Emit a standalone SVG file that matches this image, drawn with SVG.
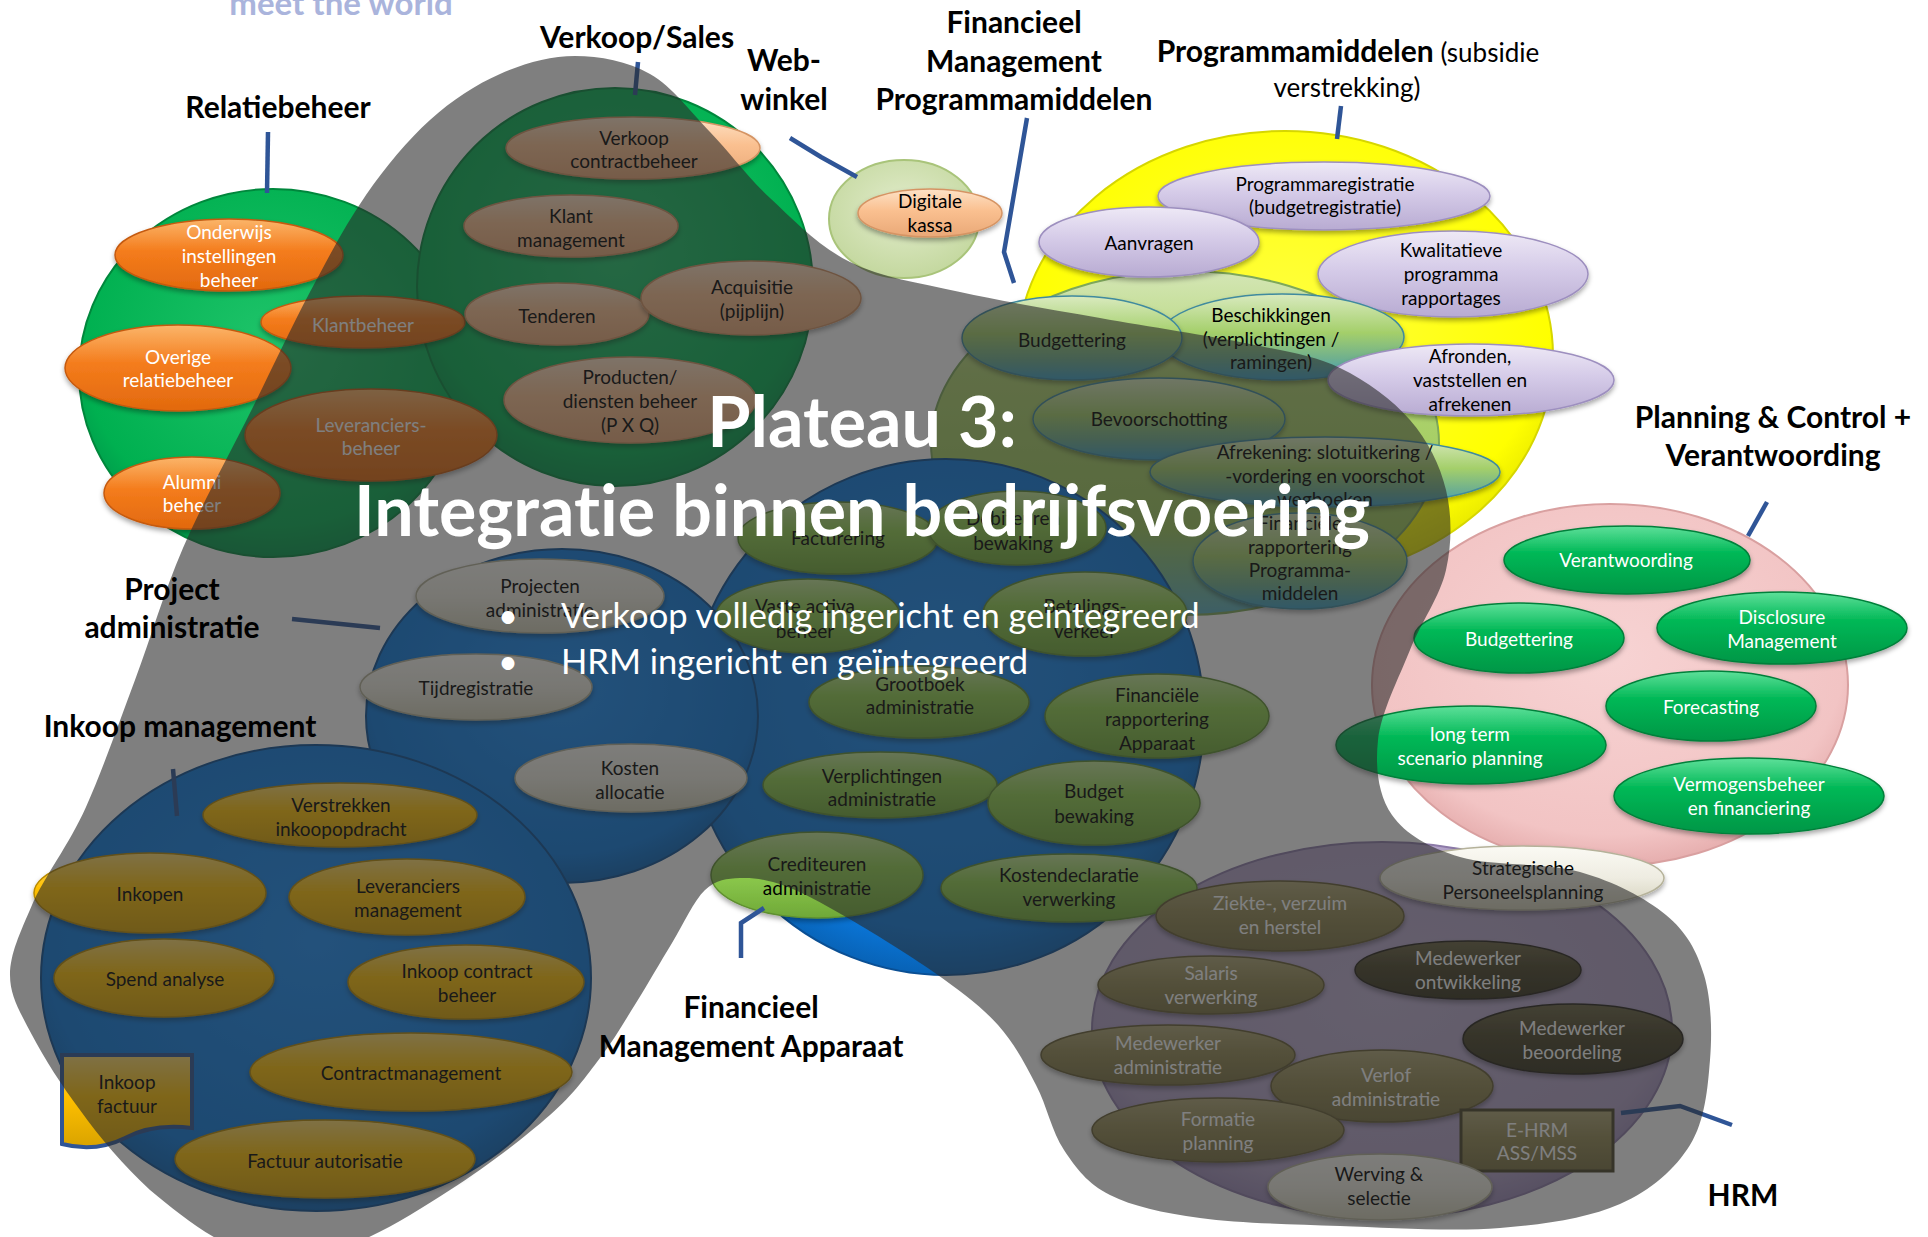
<svg xmlns="http://www.w3.org/2000/svg" width="1928" height="1237" viewBox="0 0 1928 1237">
<defs>
<style>
.t{font-family:Lato,"Liberation Sans",sans-serif;font-size:19px;text-anchor:middle}
.k{fill:#000}
.w{fill:#fff}
.h{font-family:Lato,"Liberation Sans",sans-serif;font-size:30px;font-weight:bold;text-anchor:middle;fill:#000}
.hr{font-family:Lato,"Liberation Sans",sans-serif;font-size:26px;font-weight:normal;text-anchor:middle;fill:#000}
.ti{font-family:Lato,"Liberation Sans",sans-serif;font-size:70px;font-weight:bold;text-anchor:middle;fill:#fff;font-variant-ligatures:none}
.bu{font-family:Lato,"Liberation Sans",sans-serif;font-size:34.5px;fill:#fff}
.cn{fill:none;stroke:#2f5597;stroke-width:4.5}
.e{filter:url(#sh)}
.cg{fill:url(#rGreen);stroke:#00873c;stroke-width:2}
.cb{fill:url(#rBlue);stroke:#0a4f94;stroke-width:2}
.cy{fill:url(#rYellow);stroke:#d6d600;stroke-width:2}
.cw{fill:url(#rWeb);stroke:#a9c47a;stroke-width:2}
.cf{fill:url(#gFmp);stroke:#7ea85a;stroke-width:2}
.cp{fill:url(#rPink);stroke:#d9a0a0;stroke-width:2}
.cu{fill:url(#rPurple);stroke:#8c7aa8;stroke-width:2}
.or{fill:url(#gOr);stroke:#c55a11;stroke-width:1.5}
.pe{fill:url(#gPe);stroke:#d59464;stroke-width:1.5}
.la{fill:url(#gLa);stroke:#9d8fbf;stroke-width:1.5}
.fm{fill:url(#gFm);stroke:#3f8a9e;stroke-width:1.5}
.lg{fill:url(#gLg);stroke:#5f8f30;stroke-width:1.5}
.cr{fill:url(#gCr);stroke:#b5b29a;stroke-width:1.5}
.go{fill:url(#gGo);stroke:#b88a00;stroke-width:1.5}
.gr{fill:url(#gGr);stroke:#00803a;stroke-width:1.5}
.ol{fill:url(#gOl);stroke:#665d34;stroke-width:1.5}
.dk{fill:url(#gDk);stroke:#27241a;stroke-width:1.5}
</style>
<filter id="sh" x="-10%" y="-20%" width="120%" height="160%"><feDropShadow dx="0" dy="3" stdDeviation="2.5" flood-color="#000" flood-opacity="0.35"/></filter>
<radialGradient id="rGreen" cx="0.5" cy="0.42" r="0.58"><stop offset="0" stop-color="#1fc46a"/><stop offset="0.85" stop-color="#00b050"/><stop offset="1" stop-color="#00994a"/></radialGradient>
<radialGradient id="rBlue" cx="0.5" cy="0.42" r="0.58"><stop offset="0" stop-color="#1a8df5"/><stop offset="0.85" stop-color="#0a78dc"/><stop offset="1" stop-color="#0862b5"/></radialGradient>
<radialGradient id="rYellow" cx="0.5" cy="0.42" r="0.58"><stop offset="0" stop-color="#ffff40"/><stop offset="0.85" stop-color="#ffff00"/><stop offset="1" stop-color="#e6e600"/></radialGradient>
<radialGradient id="rWeb" cx="0.5" cy="0.42" r="0.58"><stop offset="0" stop-color="#e2eccc"/><stop offset="1" stop-color="#c4d89f"/></radialGradient>
<radialGradient id="rPink" cx="0.5" cy="0.42" r="0.58"><stop offset="0" stop-color="#f7d3d3"/><stop offset="0.85" stop-color="#f2c4c4"/><stop offset="1" stop-color="#e6aeae"/></radialGradient>
<radialGradient id="rPurple" cx="0.5" cy="0.42" r="0.58"><stop offset="0" stop-color="#bdafd1"/><stop offset="0.85" stop-color="#b1a1c7"/><stop offset="1" stop-color="#9a88b6"/></radialGradient>
<linearGradient id="gFmp" x1="0" y1="0" x2="0" y2="1"><stop offset="0" stop-color="#d4e6b5"/><stop offset="0.3" stop-color="#b0d470"/><stop offset="0.75" stop-color="#9cc85a"/><stop offset="1" stop-color="#5aaec0"/></linearGradient>
<linearGradient id="gOr" x1="0" y1="0" x2="0" y2="1"><stop offset="0" stop-color="#fbb56a"/><stop offset="0.45" stop-color="#f47c1c"/><stop offset="1" stop-color="#e2690e"/></linearGradient>
<linearGradient id="gPe" x1="0" y1="0" x2="0" y2="1"><stop offset="0" stop-color="#fde2c6"/><stop offset="0.45" stop-color="#fac090"/><stop offset="1" stop-color="#e9a877"/></linearGradient>
<linearGradient id="gLa" x1="0" y1="0" x2="0" y2="1"><stop offset="0" stop-color="#eee9f6"/><stop offset="0.45" stop-color="#d5cbe8"/><stop offset="1" stop-color="#b8abd2"/></linearGradient>
<linearGradient id="gFm" x1="0" y1="0" x2="0" y2="1"><stop offset="0" stop-color="#d9eabf"/><stop offset="0.45" stop-color="#a4cf6a"/><stop offset="0.75" stop-color="#6fb08e"/><stop offset="1" stop-color="#3d9fc4"/></linearGradient>
<linearGradient id="gLg" x1="0" y1="0" x2="0" y2="1"><stop offset="0" stop-color="#c4e79a"/><stop offset="0.4" stop-color="#92d050"/><stop offset="1" stop-color="#6fa838"/></linearGradient>
<linearGradient id="gCr" x1="0" y1="0" x2="0" y2="1"><stop offset="0" stop-color="#fbfaf4"/><stop offset="0.5" stop-color="#eeece1"/><stop offset="1" stop-color="#d2cfb8"/></linearGradient>
<linearGradient id="gGo" x1="0" y1="0" x2="0" y2="1"><stop offset="0" stop-color="#ffdc70"/><stop offset="0.45" stop-color="#ffc000"/><stop offset="1" stop-color="#d9a300"/></linearGradient>
<linearGradient id="gGr" x1="0" y1="0" x2="0" y2="1"><stop offset="0" stop-color="#5ee09a"/><stop offset="0.4" stop-color="#00b856"/><stop offset="1" stop-color="#009646"/></linearGradient>
<linearGradient id="gOl" x1="0" y1="0" x2="0" y2="1"><stop offset="0" stop-color="#b0a777"/><stop offset="0.45" stop-color="#948a54"/><stop offset="1" stop-color="#7a7142"/></linearGradient>
<linearGradient id="gDk" x1="0" y1="0" x2="0" y2="1"><stop offset="0" stop-color="#6b6444"/><stop offset="0.45" stop-color="#4a452a"/><stop offset="1" stop-color="#36321e"/></linearGradient>
</defs>
<rect x="0" y="0" width="1928" height="1237" fill="#fff"/>
<text x="341" y="15" font-family="Lato, 'Liberation Sans', sans-serif" font-size="33" font-weight="bold" fill="#aab4dc" text-anchor="middle">meet the world</text>

<g id="areas">
<g id="area-relatiebeheer"><ellipse class="cg" cx="273" cy="373" rx="194" ry="184"/></g>
<g id="area-verkoop"><ellipse class="cg" cx="615" cy="287" rx="198" ry="199"/></g>
<g id="area-webwinkel"><ellipse class="cw" cx="904" cy="219" rx="75" ry="59"/></g>
<g id="area-programmamiddelen"><ellipse class="cy" cx="1285" cy="356" rx="268" ry="225"/></g>
<g id="area-fm-programmamiddelen"><ellipse class="cf" cx="1185" cy="443" rx="254" ry="172"/></g>
<g id="area-fm-apparaat"><ellipse class="cb" cx="946" cy="717" rx="258" ry="258"/></g>
<g id="area-project"><ellipse class="cb" cx="562" cy="716" rx="196" ry="167"/></g>
<g id="area-inkoop"><ellipse class="cb" cx="316" cy="978" rx="275" ry="233"/></g>
<g id="area-planning"><ellipse class="cp" cx="1610" cy="685" rx="238" ry="181"/></g>
<g id="area-hrm"><ellipse class="cu" cx="1382" cy="1030" rx="290" ry="188"/></g>
</g>

<g id="nodes">
<g id="n-onderwijs"><ellipse class="or e" cx="229" cy="255" rx="114" ry="36"/><text class="t w"><tspan x="229" y="239">Onderwijs</tspan><tspan x="229" y="263">instellingen</tspan><tspan x="229" y="287">beheer</tspan></text></g>
<g id="n-klantbeheer"><ellipse class="or e" cx="363" cy="322" rx="102" ry="26"/><text class="t w" x="363" y="332">Klantbeheer</text></g>
<g id="n-overige"><ellipse class="or e" cx="178" cy="368" rx="113" ry="43"/><text class="t w"><tspan x="178" y="364">Overige</tspan><tspan x="178" y="387">relatiebeheer</tspan></text></g>
<g id="n-leveranciersbeheer"><ellipse class="or e" cx="371" cy="435" rx="126" ry="46"/><text class="t w"><tspan x="371" y="432">Leveranciers-</tspan><tspan x="371" y="455">beheer</tspan></text></g>
<g id="n-alumni"><ellipse class="or e" cx="192" cy="493" rx="88" ry="36"/><text class="t w"><tspan x="192" y="489">Alumni</tspan><tspan x="192" y="512">beheer</tspan></text></g>
<g id="n-verkoopcontract"><ellipse class="pe e" cx="633" cy="148" rx="127" ry="31"/><text class="t k"><tspan x="634" y="145">Verkoop</tspan><tspan x="634" y="168">contractbeheer</tspan></text></g>
<g id="n-klantmanagement"><ellipse class="pe e" cx="571" cy="226" rx="107" ry="31"/><text class="t k"><tspan x="571" y="223">Klant</tspan><tspan x="571" y="247">management</tspan></text></g>
<g id="n-tenderen"><ellipse class="pe e" cx="557" cy="314" rx="92" ry="31"/><text class="t k" x="557" y="323">Tenderen</text></g>
<g id="n-acquisitie"><ellipse class="pe e" cx="751" cy="298" rx="110" ry="37"/><text class="t k"><tspan x="752" y="294">Acquisitie</tspan><tspan x="752" y="318">(pijplijn)</tspan></text></g>
<g id="n-producten"><ellipse class="pe e" cx="630" cy="400" rx="126" ry="43"/><text class="t k"><tspan x="630" y="384">Producten/</tspan><tspan x="630" y="408">diensten beheer</tspan><tspan x="630" y="432">(P X Q)</tspan></text></g>
<g id="n-digitalekassa"><ellipse class="pe e" cx="930" cy="213" rx="72" ry="24"/><text class="t k"><tspan x="930" y="208">Digitale</tspan><tspan x="930" y="232">kassa</tspan></text></g>
<g id="n-programmaregistratie"><ellipse class="la e" cx="1324" cy="196" rx="166" ry="34"/><text class="t k"><tspan x="1325" y="191">Programmaregistratie</tspan><tspan x="1325" y="214">(budgetregistratie)</tspan></text></g>
<g id="n-aanvragen"><ellipse class="la e" cx="1149" cy="242" rx="110" ry="35"/><text class="t k" x="1149" y="250">Aanvragen</text></g>
<g id="n-kwalitatieve"><ellipse class="la e" cx="1453" cy="274" rx="135" ry="43"/><text class="t k"><tspan x="1451" y="257">Kwalitatieve</tspan><tspan x="1451" y="281">programma</tspan><tspan x="1451" y="305">rapportages</tspan></text></g>
<g id="n-beschikkingen"><ellipse class="fm e" cx="1282" cy="337" rx="122" ry="43"/><text class="t k"><tspan x="1271" y="322">Beschikkingen</tspan><tspan x="1271" y="346">(verplichtingen /</tspan><tspan x="1271" y="369">ramingen)</tspan></text></g>
<g id="n-budgettering-fmp"><ellipse class="fm e" cx="1072" cy="338" rx="110" ry="42"/><text class="t k" x="1072" y="347">Budgettering</text></g>
<g id="n-afronden"><ellipse class="la e" cx="1471" cy="380" rx="143" ry="36"/><text class="t k"><tspan x="1470" y="363">Afronden,</tspan><tspan x="1470" y="387">vaststellen en</tspan><tspan x="1470" y="411">afrekenen</tspan></text></g>
<g id="n-bevoorschotting"><ellipse class="fm e" cx="1159" cy="419" rx="126" ry="41"/><text class="t k" x="1159" y="426">Bevoorschotting</text></g>
<g id="n-afrekening"><ellipse class="fm e" cx="1325" cy="472" rx="175" ry="35"/><text class="t k"><tspan x="1325" y="459">Afrekening: slotuitkering /</tspan><tspan x="1325" y="483">-vordering en voorschot</tspan><tspan x="1325" y="506">weghoeken</tspan></text></g>
<g id="n-finrap-prog"><ellipse class="fm e" cx="1300" cy="561" rx="107" ry="48"/><text class="t k"><tspan x="1300" y="530">Financiële</tspan><tspan x="1300" y="554">rapportering</tspan><tspan x="1300" y="577">Programma-</tspan><tspan x="1300" y="600">middelen</tspan></text></g>
<g id="n-facturering"><ellipse class="lg e" cx="838" cy="538" rx="100" ry="36"/><text class="t k" x="838" y="545">Facturering</text></g>
<g id="n-debiteuren"><ellipse class="lg e" cx="1017" cy="528" rx="89" ry="37"/><text class="t k"><tspan x="1013" y="525">Debiteuren</tspan><tspan x="1013" y="550">bewaking</tspan></text></g>
<g id="n-vasteactiva"><ellipse class="lg e" cx="808" cy="616" rx="92" ry="37"/><text class="t k"><tspan x="805" y="613">Vaste activa</tspan><tspan x="805" y="638">beheer</tspan></text></g>
<g id="n-betalingsverkeer"><ellipse class="lg e" cx="1085" cy="614" rx="102" ry="42"/><text class="t k"><tspan x="1085" y="613">Betalings-</tspan><tspan x="1085" y="638">verkeer</tspan></text></g>
<g id="n-grootboek"><ellipse class="lg e" cx="919" cy="702" rx="110" ry="36"/><text class="t k"><tspan x="920" y="691">Grootboek</tspan><tspan x="920" y="714">administratie</tspan></text></g>
<g id="n-finrap-app"><ellipse class="lg e" cx="1157" cy="716" rx="112" ry="42"/><text class="t k"><tspan x="1157" y="702">Financiële</tspan><tspan x="1157" y="726">rapportering</tspan><tspan x="1157" y="750">Apparaat</tspan></text></g>
<g id="n-verplichtingen"><ellipse class="lg e" cx="880" cy="785" rx="117" ry="33"/><text class="t k"><tspan x="882" y="783">Verplichtingen</tspan><tspan x="882" y="806">administratie</tspan></text></g>
<g id="n-budgetbewaking"><ellipse class="lg e" cx="1094" cy="803" rx="106" ry="42"/><text class="t k"><tspan x="1094" y="798">Budget</tspan><tspan x="1094" y="823">bewaking</tspan></text></g>
<g id="n-crediteuren"><ellipse class="lg e" cx="817" cy="875" rx="106" ry="43"/><text class="t k"><tspan x="817" y="871">Crediteuren</tspan><tspan x="817" y="895">administratie</tspan></text></g>
<g id="n-kostendeclaratie"><ellipse class="lg e" cx="1069" cy="888" rx="128" ry="34"/><text class="t k"><tspan x="1069" y="882">Kostendeclaratie</tspan><tspan x="1069" y="906">verwerking</tspan></text></g>
<g id="n-projecten"><ellipse class="cr e" cx="540" cy="596" rx="124" ry="37"/><text class="t k"><tspan x="540" y="593">Projecten</tspan><tspan x="540" y="617">administratie</tspan></text></g>
<g id="n-tijdregistratie"><ellipse class="cr e" cx="476" cy="687" rx="116" ry="33"/><text class="t k" x="476" y="695">Tijdregistratie</text></g>
<g id="n-kostenallocatie"><ellipse class="cr e" cx="631" cy="778" rx="116" ry="34"/><text class="t k"><tspan x="630" y="775">Kosten</tspan><tspan x="630" y="799">allocatie</tspan></text></g>
<g id="n-verstrekken"><ellipse class="go e" cx="340" cy="815" rx="137" ry="32"/><text class="t k"><tspan x="341" y="812">Verstrekken</tspan><tspan x="341" y="836">inkoopopdracht</tspan></text></g>
<g id="n-inkopen"><ellipse class="go e" cx="150" cy="893" rx="116" ry="40"/><text class="t k" x="150" y="901">Inkopen</text></g>
<g id="n-levmanagement"><ellipse class="go e" cx="407" cy="897" rx="118" ry="38"/><text class="t k"><tspan x="408" y="893">Leveranciers</tspan><tspan x="408" y="917">management</tspan></text></g>
<g id="n-spend"><ellipse class="go e" cx="164" cy="978" rx="110" ry="39"/><text class="t k" x="165" y="986">Spend analyse</text></g>
<g id="n-inkoopcontract"><ellipse class="go e" cx="466" cy="982" rx="118" ry="37"/><text class="t k"><tspan x="467" y="978">Inkoop contract</tspan><tspan x="467" y="1002">beheer</tspan></text></g>
<g id="n-contractmanagement"><ellipse class="go e" cx="411" cy="1072" rx="161" ry="39"/><text class="t k" x="411" y="1080">Contractmanagement</text></g>
<g id="n-factuurautorisatie"><ellipse class="go e" cx="325" cy="1159" rx="150" ry="39"/><text class="t k" x="325" y="1168">Factuur autorisatie</text></g>
<g id="n-inkoopfactuur"><path d="M62,1055 H192 V1128 C160,1124 140,1130 125,1138 C105,1148 85,1150 62,1144 Z" fill="url(#gGo)" stroke="#2f5597" stroke-width="4"/><text class="t k"><tspan x="127" y="1089">Inkoop</tspan><tspan x="127" y="1113">factuur</tspan></text></g>
<g id="n-verantwoording"><ellipse class="gr e" cx="1627" cy="560" rx="123" ry="34"/><text class="t w" x="1626" y="567">Verantwoording</text></g>
<g id="n-budgettering-pc"><ellipse class="gr e" cx="1519" cy="638" rx="105" ry="35"/><text class="t w" x="1519" y="646">Budgettering</text></g>
<g id="n-disclosure"><ellipse class="gr e" cx="1782" cy="628" rx="125" ry="36"/><text class="t w"><tspan x="1782" y="624">Disclosure</tspan><tspan x="1782" y="648">Management</tspan></text></g>
<g id="n-forecasting"><ellipse class="gr e" cx="1711" cy="706" rx="105" ry="35"/><text class="t w" x="1711" y="714">Forecasting</text></g>
<g id="n-longterm"><ellipse class="gr e" cx="1471" cy="745" rx="135" ry="39"/><text class="t w"><tspan x="1470" y="741">long term</tspan><tspan x="1470" y="765">scenario planning</tspan></text></g>
<g id="n-vermogensbeheer"><ellipse class="gr e" cx="1749" cy="796" rx="135" ry="38"/><text class="t w"><tspan x="1749" y="791">Vermogensbeheer</tspan><tspan x="1749" y="815">en financiering</tspan></text></g>
<g id="n-strategische"><ellipse class="cr e" cx="1522" cy="878" rx="142" ry="32"/><text class="t k"><tspan x="1523" y="875">Strategische</tspan><tspan x="1523" y="899">Personeelsplanning</tspan></text></g>
<g id="n-ziekte"><ellipse class="ol e" cx="1280" cy="916" rx="124" ry="35"/><text class="t w"><tspan x="1280" y="910">Ziekte-, verzuim</tspan><tspan x="1280" y="934">en herstel</tspan></text></g>
<g id="n-mw-ontwikkeling"><ellipse class="dk e" cx="1468" cy="970" rx="113" ry="29"/><text class="t w"><tspan x="1468" y="965">Medewerker</tspan><tspan x="1468" y="989">ontwikkeling</tspan></text></g>
<g id="n-salaris"><ellipse class="ol e" cx="1211" cy="985" rx="113" ry="29"/><text class="t w"><tspan x="1211" y="980">Salaris</tspan><tspan x="1211" y="1004">verwerking</tspan></text></g>
<g id="n-mw-beoordeling"><ellipse class="dk e" cx="1573" cy="1039" rx="110" ry="35"/><text class="t w"><tspan x="1572" y="1035">Medewerker</tspan><tspan x="1572" y="1059">beoordeling</tspan></text></g>
<g id="n-mw-administratie"><ellipse class="ol e" cx="1168" cy="1055" rx="127" ry="30"/><text class="t w"><tspan x="1168" y="1050">Medewerker</tspan><tspan x="1168" y="1074">administratie</tspan></text></g>
<g id="n-verlof"><ellipse class="ol e" cx="1382" cy="1086" rx="111" ry="36"/><text class="t w"><tspan x="1386" y="1082">Verlof</tspan><tspan x="1386" y="1106">administratie</tspan></text></g>
<g id="n-formatie"><ellipse class="ol e" cx="1218" cy="1130" rx="126" ry="32"/><text class="t w"><tspan x="1218" y="1126">Formatie</tspan><tspan x="1218" y="1150">planning</tspan></text></g>
<g id="n-ehrm"><rect x="1461" y="1110" width="152" height="61" fill="url(#gOl)" stroke="#4a4428" stroke-width="3"/><text class="t w"><tspan x="1537" y="1137">E-HRM</tspan><tspan x="1537" y="1160">ASS/MSS</tspan></text></g>
<g id="n-werving"><ellipse class="cr e" cx="1380" cy="1187" rx="112" ry="33"/><text class="t k"><tspan x="1379" y="1181">Werving &amp;</tspan><tspan x="1379" y="1205">selectie</tspan></text></g>
</g>

<g id="connectors">
<path class="cn" d="M268,132 L267,193"/>
<path class="cn" d="M638,62 L635,95"/>
<path class="cn" d="M790,138 L821,157 L857,177"/>
<path class="cn" d="M1027,118 L1004,252 L1014,283"/>
<path class="cn" d="M1341,106 L1337,139"/>
<path class="cn" d="M1767,502 L1748,536"/>
<path class="cn" d="M292,619 L380,628"/>
<path class="cn" d="M173,769 L177,816"/>
<path class="cn" d="M741,958 L741,923 L764,908"/>
<path class="cn" d="M1621,1113 L1680,1106 L1732,1125"/>
</g>

<g id="overlay">
<path fill="#2a2a2a" fill-opacity="0.6" d="M575,56 C600,56 627.5,61.3 650,74 C672.5,86.7 690,111.3 710,132 C730,152.7 746.7,176.3 770,198 C793.3,219.7 818.3,246.3 850,262 C881.7,277.7 918.3,282.7 960,292 C1001.7,301.3 1051.7,309.3 1100,318 C1148.3,326.7 1210,335.7 1250,344 C1290,352.3 1313.3,355.3 1340,368 C1366.7,380.7 1392.3,399.7 1410,420 C1427.7,440.3 1440,465 1446,490 C1452,515 1452,543.3 1446,570 C1440,596.7 1421.3,621.7 1410,650 C1398.7,678.3 1381,712.5 1378,740 C1375,767.5 1378.3,795.5 1392,815 C1405.7,834.5 1428.7,847.5 1460,857 C1491.3,866.5 1545.7,862.3 1580,872 C1614.3,881.7 1645.3,897.8 1666,915 C1686.7,932.2 1696.7,950.8 1704,975 C1711.3,999.2 1712.3,1031.7 1710,1060 C1707.7,1088.3 1705,1121 1690,1145 C1675,1169 1651.7,1190.2 1620,1204 C1588.3,1217.8 1546.7,1224.3 1500,1228 C1453.3,1231.7 1390,1227.7 1340,1226 C1290,1224.3 1238.3,1223.2 1200,1218 C1161.7,1212.8 1132.7,1206.3 1110,1195 C1087.3,1183.7 1076.3,1168.3 1064,1150 C1051.7,1131.7 1047,1105.8 1036,1085 C1025,1064.2 1014.8,1043.7 998,1025 C981.2,1006.3 960.3,991 935,973 C909.7,955 871,931.5 846,917 C821,902.5 802.7,892.5 785,886 C767.3,879.5 753.3,877.3 740,878 C726.7,878.7 716.3,879.2 705,890 C693.7,900.8 683.5,924.2 672,943 C660.5,961.8 648,983.8 636,1003 C624,1022.2 614.3,1039.3 600,1058 C585.7,1076.7 575,1093 550,1115 C525,1137 485,1167.8 450,1190 C415,1212.2 375,1238.3 340,1248 C305,1257.7 268,1258.5 238,1248 C206,1237 177,1212 150,1190 C124,1166 100,1138 80,1110 C62,1086 44,1058 32,1035 C20,1012 10,996 10,975 C10,954 20,933 32,905 C44,877 69.3,844.5 86,807 C102.7,769.5 118.8,723.2 135,680 C151.2,636.8 163.7,592.8 183,548 C202.3,503.2 229.8,453.7 251,411 C272.2,368.3 290.8,328 310,292 C329.2,256 346,223.7 366,195 C386,166.3 407.7,140.2 430,120 C452.3,99.8 475.8,84.7 500,74 C524.2,63.3 550,56 575,56 Z"/>
</g>

<g id="labels">
<text class="h" x="278" y="118">Relatiebeheer</text>
<text class="h" x="637" y="48">Verkoop/Sales</text>
<text class="h"><tspan x="784" y="71">Web-</tspan><tspan x="784" y="110">winkel</tspan></text>
<text class="h"><tspan x="1014" y="33">Financieel</tspan><tspan x="1014" y="72">Management</tspan><tspan x="1014" y="110">Programmamiddelen</tspan></text>
<text class="h" x="1348" y="62">Programmamiddelen<tspan style="font-weight:normal;font-size:26px"> (subsidie</tspan></text>
<text class="hr" x="1347" y="97">verstrekking)</text>
<text class="h"><tspan x="1773" y="428">Planning &amp; Control +</tspan><tspan x="1773" y="466">Verantwoording</tspan></text>
<text class="h"><tspan x="172" y="600">Project</tspan><tspan x="172" y="638">administratie</tspan></text>
<text class="h" x="180" y="737">Inkoop management</text>
<text class="h"><tspan x="751" y="1018">Financieel</tspan><tspan x="751" y="1057">Management Apparaat</tspan></text>
<text class="h" x="1743" y="1206">HRM</text>
</g>

<g id="title">
<text class="ti" x="862" y="447">Plateau 3:</text>
<text class="ti" x="862" y="536">Integratie binnen bedrijfsvoering</text>
<text class="bu" x="498" y="628">•</text>
<text class="bu" x="561" y="628">Verkoop volledig ingericht en geïntegreerd</text>
<text class="bu" x="498" y="674">•</text>
<text class="bu" x="561" y="674">HRM ingericht en geïntegreerd</text>
</g>
</svg>
